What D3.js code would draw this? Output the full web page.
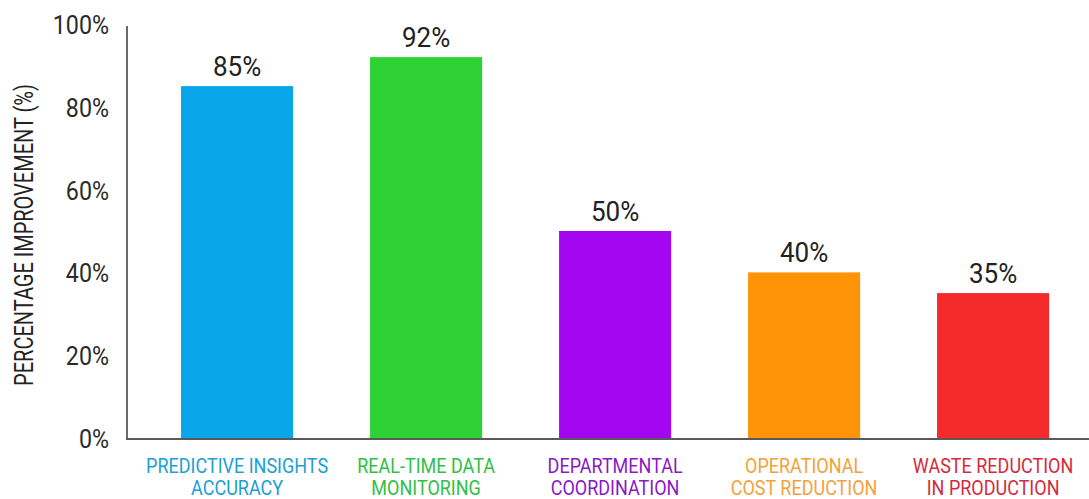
<!DOCTYPE html>
<html>
<head>
<meta charset="utf-8">
<script src="https://cdn.jsdelivr.net/npm/d3@7"></script>
<style>
  html, body { margin: 0; padding: 0; background: #fff; }
  svg { display: block; }
  text { font-family: Roboto, "Liberation Sans", sans-serif; }
</style>
</head>
<body>
<svg id="chart" width="1089" height="499"></svg>
<script>
const categories = [
  ["PREDICTIVE INSIGHTS", "ACCURACY"],
  ["REAL-TIME DATA", "MONITORING"],
  ["DEPARTMENTAL", "COORDINATION"],
  ["OPERATIONAL", "COST REDUCTION"],
  ["WASTE REDUCTION", "IN PRODUCTION"]
];
const values = [85, 92, 50, 40, 35];
const barColors = ["#0aa6ea", "#2ed234", "#a506f2", "#ff9408", "#f52a2a"];
const labelColors = ["#1a9fd6", "#2fbf45", "#8a18c4", "#f2a23a", "#d52a3c"];
const yTicks = [0, 20, 40, 60, 80, 100];
const yTitle = "PERCENTAGE IMPROVEMENT (%)";

const svg = d3.select("#chart");

const x = d3.scaleBand()
  .domain(d3.range(categories.length))
  .range([127, 127 + 189 * (5 - 0.407 + 2 * 0.286)])
  .paddingInner(0.407)
  .paddingOuter(0.286);
const y = d3.scaleLinear().domain([0, 100]).range([438, 24]);

// bars
svg.selectAll("rect.bar").data(values).join("rect")
  .attr("class", "bar")
  .attr("x", (d, i) => x(i))
  .attr("y", d => y(d))
  .attr("width", x.bandwidth())
  .attr("height", d => y(0) - y(d))
  .attr("fill", (d, i) => barColors[i]);

// value labels
svg.selectAll("text.val").data(values).join("text")
  .attr("class", "val")
  .attr("transform", (d, i) => `translate(${x(i) + x.bandwidth() / 2},${y(d) - 10}) scale(0.93,1)`)
  .attr("text-anchor", "middle")
  .attr("font-size", 28)
  .attr("fill", "#222")
  .text(d => d + "%");

// y axis
const yAxis = svg.append("g");
yAxis.append("line")
  .attr("x1", 127).attr("x2", 127)
  .attr("y1", y(100) + 2).attr("y2", y(0))
  .attr("stroke", "#6a6a6a").attr("stroke-width", 2);
yAxis.selectAll("text").data(yTicks).join("text")
  .attr("transform", d => `translate(109,${y(d) + 10}) scale(0.93,1)`)
  .attr("text-anchor", "end")
  .attr("font-size", 25)
  .attr("fill", "#2a2a2a")
  .text(d => d + "%");

// x axis baseline
svg.append("line")
  .attr("x1", 126).attr("x2", 1089)
  .attr("y1", y(0) + 1).attr("y2", y(0) + 1)
  .attr("stroke", "#5a5a5a").attr("stroke-width", 2);

// y title
svg.append("text")
  .attr("transform", `translate(33,${(y(0) + y(100)) / 2 + 4}) rotate(-90) scale(0.8,1)`)
  .attr("text-anchor", "middle")
  .attr("font-size", 25)
  .attr("fill", "#222")
  .text(yTitle);

// x labels
const xl = svg.selectAll("g.xl").data(categories).join("g")
  .attr("class", "xl")
  .attr("transform", (d, i) => `translate(${x(i) + x.bandwidth() / 2},0)`);
xl.each(function(lines, i) {
  const g = d3.select(this);
  lines.forEach((ln, k) => {
    g.append("text")
      .attr("transform", `translate(0,${473 + k * 22}) scale(0.9,1)`)
      .attr("text-anchor", "middle")
      .attr("font-size", 20)
      .attr("fill", labelColors[i])
      .text(ln);
  });
});
</script>
</body>
</html>
